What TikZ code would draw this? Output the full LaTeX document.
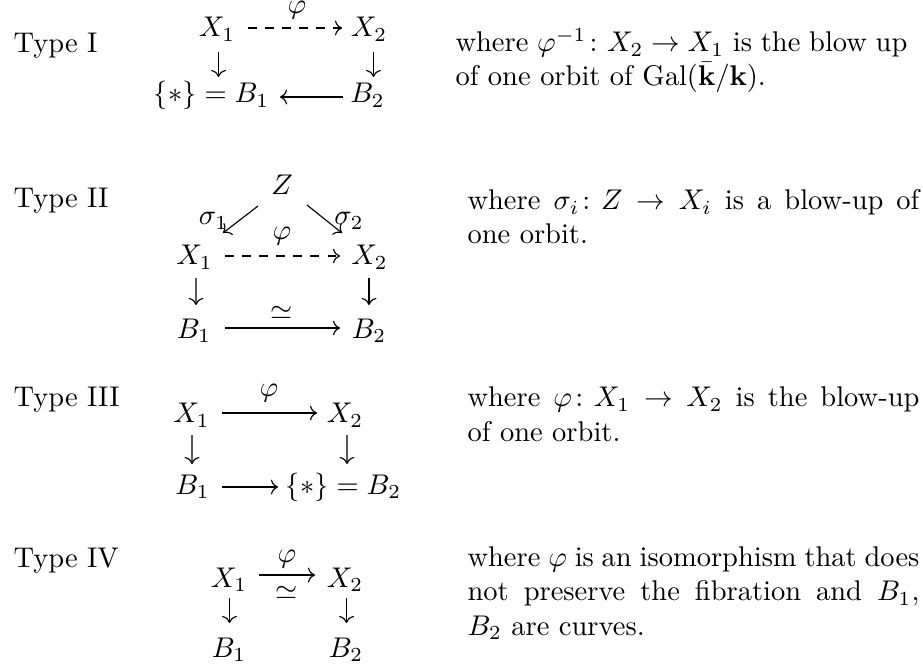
\documentclass[tikz,border=0pt]{standalone}
\usepackage{amsmath,amssymb}
\usetikzlibrary{arrows.meta}
\newcommand{\jline}[1]{\hbox to 158.6pt{#1}}
\begin{document}
\begin{tikzpicture}[x=0.351pt,y=-0.351pt,
  obj/.style={anchor=base,inner sep=0pt},
  lbl/.style={anchor=base west,inner sep=0pt},
  desc/.style={anchor=base west,inner sep=0pt,align=left},
  arr/.style={-{Computer Modern Rightarrow},line width=0.4pt},
  darr/.style={arr,dash pattern=on 3pt off 3pt}]
\useasboundingbox (0,0) rectangle (923,664);

% ---------- Type I ----------
\node[lbl] (t1) at (13,53) {Type I};
\node[obj] (a1) at (217,37) {$X_1$};
\node[obj] (a2) at (369,37) {$X_2$};
\node[obj] (a3) at (211.5,103) {$\{*\}=B_1$};
\node[obj] (a4) at (367.5,103) {$B_2$};
\node[obj] (a5) at (297,14) {$\varphi$};
\draw[darr] ([shift={(31,-9)}]a1.base) -- ([shift={(-27,-9)}]a2.base);
\draw[arr] ([shift={(1.5,15)}]a1.base) -- ([shift={(7,-26)}]a3.base);
\draw[arr] ([shift={(4.5,15)}]a2.base) -- ([shift={(6,-26)}]a4.base);
\draw[arr] ([shift={(-24.5,-6)}]a4.base) -- ([shift={(68.5,-6)}]a3.base);
% anchor = baseline of the last line
\node[desc] (d1) at (455,86) {\jline{where $\varphi^{-1}\colon X_2\to X_1$ is the blow up}\\of one orbit of $\mathrm{Gal}(\bar{\mathbf{k}}/\mathbf{k})$.};

% ---------- Type II ----------
\node[lbl] (t2) at (13,208) {Type II};
\node[obj] (b0) at (282,195) {$Z$};
\node[obj] (b1) at (194.5,265) {$X_1$};
\node[obj] (b2) at (369.5,265) {$X_2$};
\node[obj] (b3) at (194,338) {$B_1$};
\node[obj] (b4) at (369,338) {$B_2$};
\node[obj] (b5) at (213.5,225) {$\sigma_1$};
\node[obj] (b6) at (349,225) {$\sigma_2$};
\node[obj] (b7) at (282,240) {$\varphi$};
\node[obj] (b8) at (282,319.5) {$\simeq$};
\draw[arr] ([shift={(-24,11)}]b0.base) -- ([shift={(28.5,-32)}]b1.base);
\draw[arr] ([shift={(25,10)}]b0.base) -- ([shift={(-27.5,-32)}]b2.base);
\draw[darr] ([shift={(30.5,-9)}]b1.base) -- ([shift={(-29.5,-9)}]b2.base);
\draw[arr] ([shift={(1.5,13)}]b1.base) -- ([shift={(2,-33)}]b3.base);
\draw[arr] ([shift={(-0.5,13)}]b2.base) -- ([shift={(0,-33)}]b4.base);
\draw[arr] ([shift={(31,-10)}]b3.base) -- ([shift={(-29,-10)}]b4.base);
\node[desc] (d2) at (467,244) {\jline{where $\sigma_i\colon Z\to X_i$ is a blow-up of}\\one orbit.};

% ---------- Type III ----------
\node[lbl] (t3) at (13,406) {Type III};
\node[obj] (c1) at (191.5,423) {$X_1$};
\node[obj] (c2) at (345,423) {$X_2$};
\node[obj] (c3) at (192.5,494) {$B_1$};
\node[obj] (c4) at (343.5,494) {$\{*\}=B_2$};
\node[obj] (c5) at (269,397) {$\varphi$};
\draw[arr] ([shift={(30.5,-10)}]c1.base) -- ([shift={(-28,-10)}]c2.base);
\draw[arr] ([shift={(0.5,12)}]c1.base) -- ([shift={(-0.5,-30)}]c3.base);
\draw[arr] ([shift={(2,12)}]c2.base) -- ([shift={(3.5,-30)}]c4.base);
\draw[arr] ([shift={(29.5,-7)}]c3.base) -- ([shift={(-65.5,-7)}]c4.base);
\node[desc] (d3) at (467,441) {\jline{where $\varphi\colon X_1\to X_2$ is the blow-up}\\of one orbit.};

% ---------- Type IV ----------
\node[lbl] (t4) at (13,567) {Type IV};
\node[obj] (e1) at (229,587) {$X_1$};
\node[obj] (e2) at (345,587) {$X_2$};
\node[obj] (e3) at (229,657) {$B_1$};
\node[obj] (e4) at (346,657) {$B_2$};
\node[obj] (e5) at (287,562) {$\varphi$};
\node[obj] (e6) at (287,599) {$\simeq$};
\draw[arr] ([shift={(30,-12)}]e1.base) -- ([shift={(-30,-12)}]e2.base);
\draw[arr] ([shift={(0.5,11)}]e1.base) -- ([shift={(0.5,-34)}]e3.base);
\draw[arr] ([shift={(1.5,11)}]e2.base) -- ([shift={(0.5,-34)}]e4.base);
\node[desc] (d4) at (467,635) {\jline{where $\varphi$ is an isomorphism that does}\\\jline{not preserve the fibration and $B_1$,}\\$B_2$ are curves.};
\end{tikzpicture}
\end{document}
